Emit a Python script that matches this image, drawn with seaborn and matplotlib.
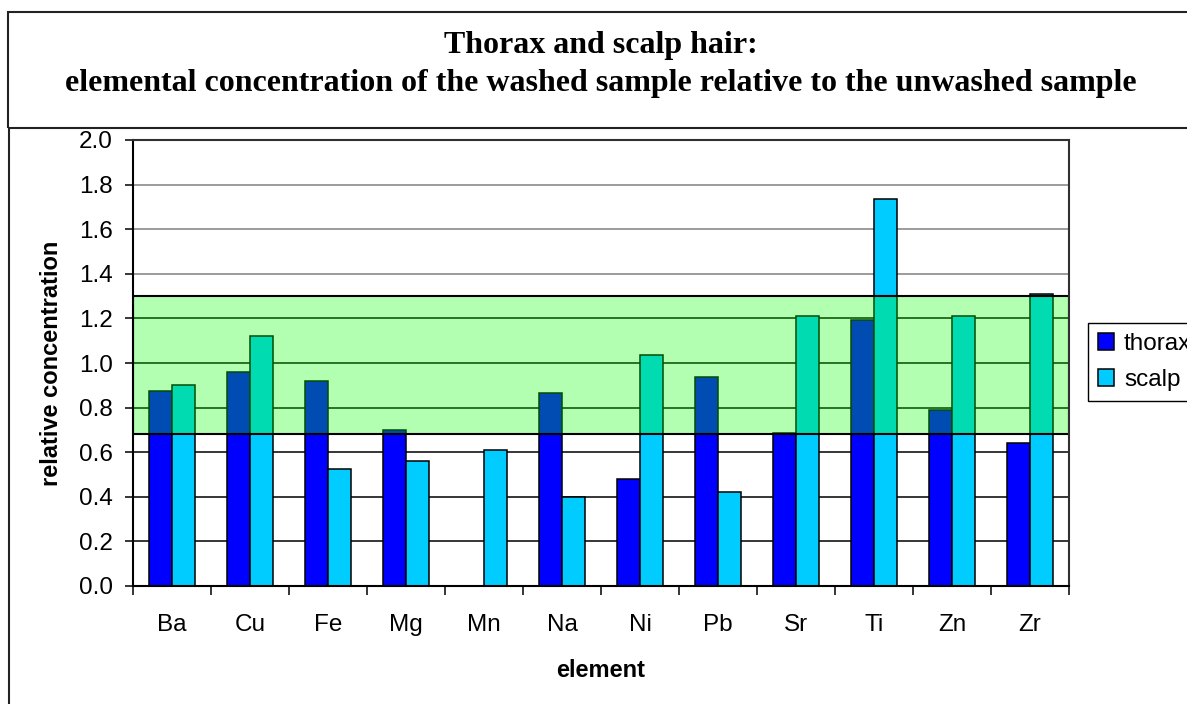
import numpy as np
import pandas as pd
import matplotlib
matplotlib.use("Agg")
import matplotlib.pyplot as plt
from matplotlib.patches import Rectangle, Patch
from matplotlib.lines import Line2D
import seaborn as sns

# ---- data ----
elements = ["Ba", "Cu", "Fe", "Mg", "Mn", "Na", "Ni", "Pb", "Sr", "Ti", "Zn", "Zr"]
thorax = [0.875, 0.96, 0.92, 0.70, np.nan, 0.865, 0.48, 0.935, 0.685, 1.195, 0.79, 0.64]
scalp = [0.90, 1.12, 0.525, 0.56, 0.61, 0.40, 1.035, 0.42, 1.21, 1.735, 1.21, 1.31]
series_names = ["thorax", "scalp"]
band_low, band_high = 0.68, 1.30
y_ticks = [0.0, 0.2, 0.4, 0.6, 0.8, 1.0, 1.2, 1.4, 1.6, 1.8, 2.0]

title_line1 = "Thorax and scalp hair:"
title_line2 = "elemental concentration of the washed sample relative to the unwashed sample"

df = pd.DataFrame({
    "element": elements * 2,
    "sample": [series_names[0]] * len(elements) + [series_names[1]] * len(elements),
    "value": thorax + scalp,
})

sns.set_style("white")
plt.rcParams["font.family"] = ["Liberation Sans", "DejaVu Sans"]
plt.rcParams["text.color"] = "black"
plt.rcParams["axes.labelcolor"] = "black"
plt.rcParams["xtick.color"] = "black"
plt.rcParams["ytick.color"] = "black"

W, H = 1187, 704
fig = plt.figure(figsize=(W / 100, H / 100), dpi=100)
ax = fig.add_axes([133 / W, (H - 586) / H, (1069 - 133) / W, (586 - 140) / H])

palette = {"thorax": "#0000FF", "scalp": "#00CCFF"}
sns.barplot(data=df, x="element", y="value", hue="sample", order=elements,
            hue_order=series_names, palette=palette, width=0.6, saturation=1,
            edgecolor="black", linewidth=1.1, errorbar=None, ax=ax, legend=False)

ax.set_xlim(-0.5, len(elements) - 0.5)
ax.set_ylim(y_ticks[0], y_ticks[-1])
ax.set_yticks(y_ticks)
ax.set_yticklabels([f"{t:.1f}" for t in y_ticks])

# gridlines
for t in y_ticks[1:-1]:
    ax.axhline(t, color=("black" if t <= band_high else "#808080"), lw=1.1, zorder=0.5)

# green band
ax.axhspan(band_low, band_high, facecolor=(0, 1, 0, 0.3), edgecolor="black", lw=1.5, zorder=3)

# ticks
ax.set_xticks(np.arange(-0.5, len(elements), 1), minor=True)
ax.tick_params(axis="x", which="major", length=0, pad=20, labelsize=17.5)
ax.tick_params(axis="x", which="minor", length=6.5, width=1.1, direction="out", bottom=True)
ax.tick_params(axis="y", which="major", length=6, width=1.1, direction="out", left=True,
               pad=8.5, labelsize=17.5)

for s in ["left", "bottom"]:
    ax.spines[s].set_color("black")
    ax.spines[s].set_linewidth(1.5)
for s in ["top", "right"]:
    ax.spines[s].set_color("#303030")
    ax.spines[s].set_linewidth(1.5)
for s in ax.spines.values():
    s.set_zorder(4)

ax.set_xlabel("element", fontsize=17, fontweight="bold")
ax.set_ylabel("relative concentration", fontsize=17, fontweight="bold")
ax.xaxis.set_label_coords(0.5, -0.164)
ax.yaxis.set_label_coords(-0.0745, 0.5)

# legend
handles = [Patch(facecolor=palette[n], edgecolor="black", linewidth=1.1) for n in series_names]
ax.legend(handles, series_names, loc="upper left",
          bbox_to_anchor=(1088 / W, (H - 323) / H), bbox_transform=fig.transFigure,
          borderaxespad=0, frameon=True, fancybox=False, edgecolor="black", framealpha=1,
          fontsize=17.5, handlelength=0.68, handleheight=0.68, handletextpad=0.4,
          borderpad=0.4, labelspacing=0.6)
ax.get_legend().get_frame().set_linewidth(1.0)

# title box and chart area frame
fig.add_artist(Rectangle((8 / W, (H - 128) / H), 1.0, 116 / H, transform=fig.transFigure,
                         fill=False, edgecolor="#222222", lw=1.5))
fig.add_artist(Line2D([9 / W, 9 / W], [0, (H - 128) / H], transform=fig.transFigure,
                      color="#222222", lw=1.5))

title_font = dict(family=["Liberation Serif", "DejaVu Serif"], fontweight="bold", fontsize=23)
fig.text(601 / W, (H - 53) / H, title_line1, ha="center", va="baseline", **title_font)
fig.text(601 / W, (H - 91) / H, title_line2, ha="center", va="baseline", **title_font)

fig.savefig("out.png", dpi=100)
